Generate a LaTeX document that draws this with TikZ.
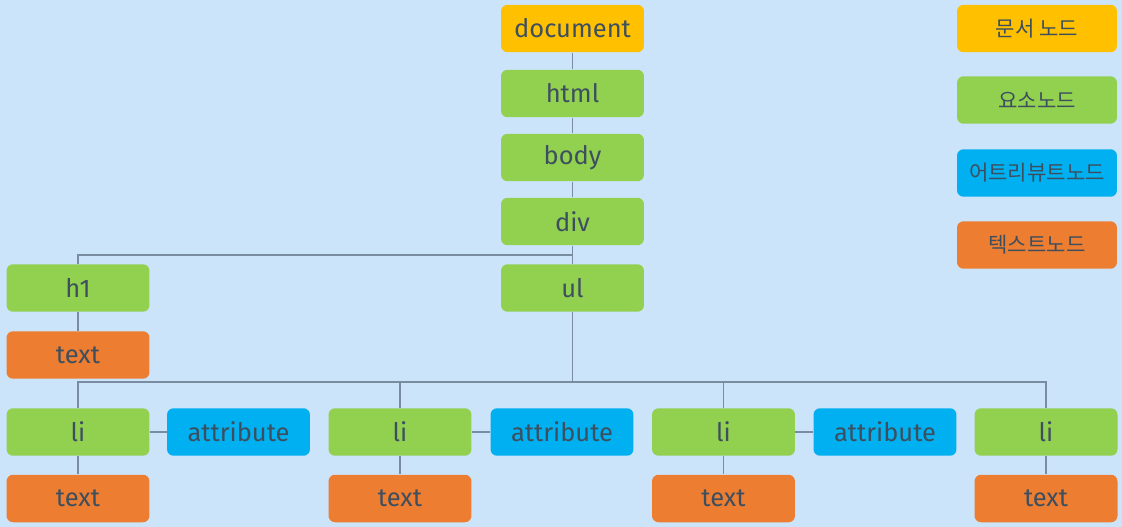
\documentclass[tikz,border=0pt]{standalone}
\usepackage{fontspec}
\setmainfont{Fira Sans}
\newfontfamily\kofont{Noto Sans CJK KR}
\usetikzlibrary{positioning}
\definecolor{PageBlue}{RGB}{204,228,250}
\definecolor{DocYellow}{RGB}{255,192,0}
\definecolor{ElemGreen}{RGB}{146,208,80}
\definecolor{AttrBlue}{RGB}{0,176,240}
\definecolor{TextOrange}{RGB}{237,125,49}
\definecolor{InkGray}{RGB}{61,79,95}
\definecolor{WireGray}{RGB}{122,140,160}

\begin{document}
\begin{tikzpicture}[
    x=0.02cm,
    y=-0.02cm,
    font=\fontsize{14.5}{16}\selectfont,
    box/.style={
        minimum width=2.86cm,
        minimum height=0.95cm,
        rounded corners=0.13cm,
        align=center,
        text=InkGray,
        inner sep=0pt
    },
    docnode/.style={box, fill=DocYellow},
    elemnode/.style={box, fill=ElemGreen},
    attrnode/.style={box, fill=AttrBlue},
    textnode/.style={box, fill=TextOrange},
    legend/.style={box, minimum width=3.2cm, font=\kofont\fontsize{12}{14}\selectfont},
    wire/.style={draw=WireGray, line width=0.6pt}
]

\fill[PageBlue] (0,0) rectangle (1122,527);
\useasboundingbox (0,0) rectangle (1122,527);

% main trunk
\node[docnode] (document) at (572.5,28.5) {document};
\node[elemnode] (html) at (572.5,93.5) {html};
\node[elemnode] (body) at (572.5,157.5) {body};
\node[elemnode] (div) at (572.5,221.5) {div};

\node[elemnode] (h1) at (78,288) {h1};
\node[elemnode] (ul) at (572.5,288) {ul};
\node[textnode] (h1text) at (78,355) {text};

% list items
\node[elemnode] (lia) at (78,432) {li};
\node[attrnode] (attra) at (238.5,432) {attribute};
\node[elemnode] (lib) at (400,432) {li};
\node[attrnode] (attrb) at (562,432) {attribute};
\node[elemnode] (lic) at (723.5,432) {li};
\node[attrnode] (attrc) at (885,432) {attribute};
\node[elemnode] (lid) at (1046,432) {li};

\node[textnode] (texta) at (78,498.5) {text};
\node[textnode] (textb) at (400,498.5) {text};
\node[textnode] (textc) at (723.5,498.5) {text};
\node[textnode] (textd) at (1046,498.5) {text};

% legend
\node[legend, fill=DocYellow] (legdoc) at (1037,28.5) {문서 노드};
\node[legend, fill=ElemGreen] (legelem) at (1037,100) {요소노드};
\node[legend, fill=AttrBlue] (legattr) at (1037,173) {어트리뷰트노드};
\node[legend, fill=TextOrange] (legtext) at (1037,245) {텍스트노드};

% connectors
\coordinate (divbus) at (572.5,255);
\coordinate (ulbus) at (572.5,382);

\draw[wire] (document) -- (html);
\draw[wire] (html) -- (body);
\draw[wire] (body) -- (div);
\draw[wire] (div) -- (ul);
\draw[wire] (divbus) -| (h1);
\draw[wire] (h1) -- (h1text);
\draw[wire] (ul) -- (ulbus);
\foreach \li in {lia,lib,lic,lid}
    \draw[wire] (ulbus) -| (\li);
\draw[wire] (lia) -- (attra);
\draw[wire] (lib) -- (attrb);
\draw[wire] (lic) -- (attrc);
\draw[wire] (lia) -- (texta);
\draw[wire] (lib) -- (textb);
\draw[wire] (lic) -- (textc);
\draw[wire] (lid) -- (textd);

\end{tikzpicture}
\end{document}
